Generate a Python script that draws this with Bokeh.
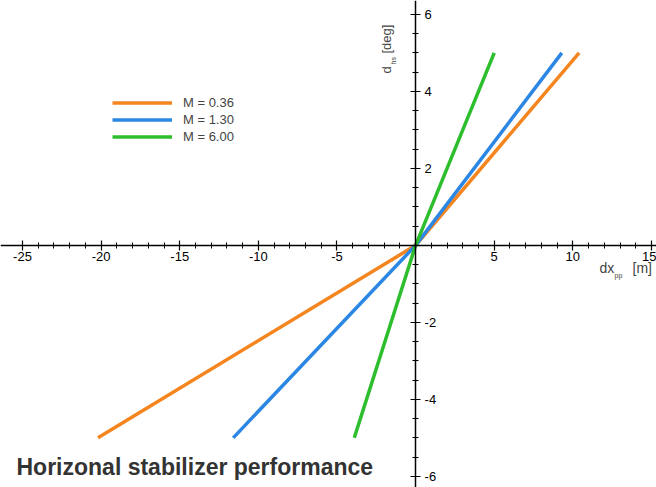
from bokeh.plotting import figure
from bokeh.models import (LinearAxis, FixedTicker, Label, Legend, LegendItem, Range1d,
                          Grid, PrintfTickFormatter)
from bokeh.embed import file_html
from bokeh.resources import INLINE

# ---- data ----
mach_labels = ["M = 0.36", "M = 1.30", "M = 6.00"]
dx_m036 = [-20.2, 0.0, 10.4]
dx_m130 = [-11.6, 0.0, 9.3]
dx_m600 = [-3.9, 0.0, 5.0]
d_hs = [-5.0, 0.0, 5.0]
series_colors = ["#F5851F", "#2B87E3", "#2DBE2D"]
x_ticks = [-25, -20, -15, -10, -5, 5, 10, 15]
y_ticks = [-6, -4, -2, 2, 4, 6]
x_minor = list(range(-25, 16))
y_minor = [v / 2 for v in range(-12, 13)]

FONT = "Liberation Sans"

p = figure(width=656, height=487,
           x_range=Range1d(-26.4, 15.32), y_range=Range1d(-6.29, 6.36),
           output_backend="svg", toolbar_location=None,
           x_axis_location=None, y_axis_location=None,
           min_border=0)
p.outline_line_color = None
p.background_fill_color = "white"
p.border_fill_color = "white"

def style_axis(ax):
    ax.axis_line_width = 1.5
    ax.axis_line_color = "black"
    ax.major_tick_in = 5
    ax.major_tick_out = 5
    ax.minor_tick_in = 3
    ax.minor_tick_out = 3
    ax.major_tick_line_width = 1.2
    ax.minor_tick_line_width = 1
    ax.major_label_text_font = FONT
    ax.major_label_text_font_size = "13px"
    ax.major_label_text_color = "black"
    ax.formatter = PrintfTickFormatter(format="%d")

xaxis = LinearAxis(fixed_location=0,
                   ticker=FixedTicker(ticks=x_ticks, minor_ticks=x_minor))
style_axis(xaxis)
xaxis.major_label_standoff = 2
p.add_layout(xaxis, "below")

yaxis = LinearAxis(fixed_location=0,
                   ticker=FixedTicker(ticks=y_ticks, minor_ticks=y_minor))
style_axis(yaxis)
yaxis.major_label_standoff = 4
p.add_layout(yaxis, "right")

for g in p.select(type=Grid):
    g.visible = False

items = []
for lab, xs, col in zip(mach_labels, [dx_m036, dx_m130, dx_m600], series_colors):
    r = p.line(xs, d_hs, line_color=col, line_width=3.5)
    items.append(LegendItem(label=lab, renderers=[r]))

legend = Legend(items=items, location=(112, 343), glyph_width=60, glyph_height=15,
                label_standoff=11, spacing=2, padding=0, margin=0,
                label_text_font=FONT, label_text_font_size="13px",
                border_line_color=None, background_fill_alpha=0)
p.add_layout(legend, "center")

# axis labels
p.add_layout(Label(x=599, y=212, x_units="screen", y_units="screen",
                   text="dx", text_font=FONT, text_font_size="14px"))
p.add_layout(Label(x=614, y=209, x_units="screen", y_units="screen",
                   text="pp", text_font=FONT, text_font_size="7px"))
p.add_layout(Label(x=632, y=212, x_units="screen", y_units="screen",
                   text="[m]", text_font=FONT, text_font_size="14px"))

p.add_layout(Label(x=393, y=414, x_units="screen", y_units="screen",
                   text="d", angle=90, angle_units="deg",
                   text_font=FONT, text_font_size="13px"))
p.add_layout(Label(x=396, y=423, x_units="screen", y_units="screen",
                   text="hs", angle=90, angle_units="deg",
                   text_font=FONT, text_font_size="7px"))
p.add_layout(Label(x=393, y=434, x_units="screen", y_units="screen",
                   text="[deg]", angle=90, angle_units="deg",
                   text_font=FONT, text_font_size="13px"))

# caption
p.add_layout(Label(x=16, y=8, x_units="screen", y_units="screen",
                   text="Horizonal stabilizer performance",
                   text_font=FONT, text_font_size="23px",
                   text_font_style="bold", text_color="#333333"))

open("out.html", "w").write(file_html(p, INLINE))
